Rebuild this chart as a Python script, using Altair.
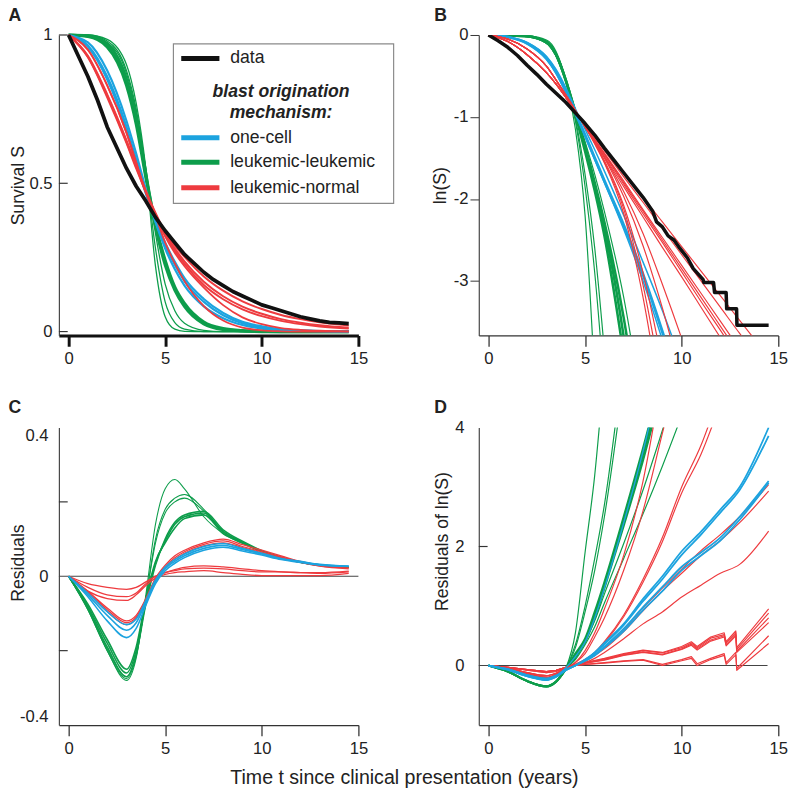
import altair as alt
import pandas as pd

FONT = "Liberation Sans"
GREEN = "#0d9d4b"
BLUE = "#1ca3df"
RED = "#ee3b3f"
BLACK = "#111111"

# common time grid for model curves (years)
T = [0, 1, 2, 3, 3.5, 4, 4.5, 5, 5.5, 6, 7, 8, 9, 10, 11, 12, 13, 14.5]
N = None

# ---------------- Panel A : survival S ----------------
A_DATA_T = [0, .5, 1, 1.5, 2, 2.5, 3, 3.5, 4, 4.5, 5, 5.5, 6, 6.5, 7, 7.5, 8, 8.5, 9, 9.5,
            10, 10.5, 11, 11.5, 12, 12.5, 13, 13.5, 14, 14.5]
A_DATA_S = [1, .93, .86, .78, .69, .62, .55, .49, .44, .385, .34, .30, .26, .23, .20, .175, .155, .135,
            .12, .105, .09, .08, .07, .06, .05, .043, .036, .031, .029, .027]
A_GREEN_THICK_1 = [1, .995, .96, .83, .70, .52, .36, .24, .15, .095, .032, .01, .003, .001, 0, 0, 0, 0]
A_GREEN_THICK_2 = [1, .997, .97, .85, .72, .53, .355, .225, .14, .085, .026, .007, .002, 0, 0, 0, 0, 0]
A_GREEN_THIN_1 = [1, 1, .985, .9, .77, .55, .22, .05, .008, .001, 0, 0, 0, 0, 0, 0, 0, 0]
A_GREEN_THIN_2 = [1, 1, .98, .88, .75, .54, .28, .10, .03, .008, 0, 0, 0, 0, 0, 0, 0, 0]
A_GREEN_THIN_3 = [1, .998, .975, .87, .74, .55, .33, .16, .07, .028, .004, 0, 0, 0, 0, 0, 0, 0]
A_BLUE_1 = [1, .965, .86, .69, .58, .47, .37, .29, .225, .17, .10, .055, .028, .014, .006, .003, .001, 0]
A_BLUE_2 = [1, .975, .88, .71, .60, .48, .37, .28, .21, .155, .085, .045, .022, .010, .004, .002, .001, 0]
A_BLUE_3 = [1, .96, .85, .68, .57, .465, .375, .30, .235, .18, .11, .063, .033, .018, .008, .004, .002, .001]
A_RED_1 = [1, .95, .83, .67, .57, .47, .39, .30, .23, .17, .086, .037, .013, .004, .001, 0, 0, 0]
A_RED_2 = [1, .95, .83, .67, .57, .47, .39, .32, .265, .22, .148, .089, .048, .025, .012, .006, .003, .001]
A_RED_3 = [1, .925, .79, .635, .55, .47, .395, .33, .273, .228, .157, .109, .075, .052, .036, .025, .017, .010]
A_RED_4 = [1, .927, .795, .64, .555, .47, .395, .332, .28, .237, .168, .119, .084, .060, .042, .030, .021, .013]
A_RED_5 = [1, .93, .80, .645, .56, .475, .40, .335, .29, .252, .186, .138, .102, .076, .056, .042, .031, .020]

# ---------------- Panel B : ln(S) ----------------
B_DATA_T = [0, .5, 1, 1.5, 2, 2.5, 3, 3.5, 4, 4.5, 5, 5.5, 6, 6.5, 7, 7.5, 8, 8.5, 8.7, 9, 9.3, 9.6, 9.9,
            10.3, 10.6, 11.1, 11.15, 11.65, 11.7, 12.3, 12.33, 12.84, 12.86, 14.5]
B_DATA_L = [0, -.07, -.15, -.25, -.37, -.48, -.6, -.71, -.82, -.95, -1.08, -1.22, -1.38, -1.53, -1.68, -1.83,
            -1.98, -2.15, -2.28, -2.34, -2.45, -2.5, -2.6, -2.72, -2.85, -2.98, -3.02, -3.02, -3.14, -3.14,
            -3.34, -3.34, -3.54, -3.54]
B_GREEN_THIN_1 = [0, -.003, -.01, -.06, -.2, -.55, -1.15, -2.2, -4.2, N, N, N, N, N, N, N, N, N]
B_GREEN_THIN_2 = [0, -.003, -.012, -.07, -.22, -.55, -1.05, -1.85, -2.9, -4.3, N, N, N, N, N, N, N, N]
B_GREEN_THIN_3 = [0, -.004, -.015, -.08, -.23, -.55, -1.02, -1.7, -2.6, -3.85, N, N, N, N, N, N, N, N]
B_GREEN_THIN_4 = [0, -.005, -.02, -.1, -.26, -.55, -.92, -1.3, -1.7, -2.15, -3.2, -4.6, N, N, N, N, N, N]
B_GREEN_THICK_1 = [0, -.004, -.015, -.09, -.24, -.55, -.97, -1.42, -1.9, -2.45, -3.9, N, N, N, N, N, N, N]
B_GREEN_THICK_2 = [0, -.004, -.015, -.09, -.24, -.55, -.95, -1.38, -1.84, -2.35, -3.68, -5.5, N, N, N, N, N, N]
B_GREEN_THICK_3 = [0, -.004, -.015, -.09, -.24, -.55, -.94, -1.35, -1.8, -2.28, -3.45, -5.0, N, N, N, N, N, N]
B_BLUE_1 = [0, -.025, -.1, -.28, -.45, -.68, -.95, -1.22, -1.5, -1.78, -2.32, -2.92, -3.62, -4.4, N, N, N, N]
B_BLUE_2 = [0, -.022, -.09, -.26, -.42, -.64, -.9, -1.15, -1.4, -1.66, -2.2, -2.77, -3.36, -4.0, N, N, N, N]
B_BLUE_3 = [0, -.028, -.11, -.3, -.47, -.7, -.96, -1.24, -1.52, -1.8, -2.37, -3.0, -3.72, -4.5, N, N, N, N]
B_RED_1A = [0, -.05, -.17, -.38, -.55, -.73, -.92, -1.12, -1.33, -1.56, -2.18, -3.2, -4.6, N, N, N, N, N]
B_RED_1B = [0, -.05, -.17, -.38, -.55, -.73, -.92, -1.12, -1.32, -1.55, -2.12, -3.05, -4.3, N, N, N, N, N]
B_RED_1C = [0, -.05, -.17, -.38, -.55, -.73, -.92, -1.12, -1.31, -1.53, -2.08, -2.9, -4.0, N, N, N, N, N]
B_RED_1D = [0, -.05, -.17, -.38, -.55, -.73, -.92, -1.12, -1.3, -1.5, -1.97, -2.57, -3.33, -4.2, N, N, N, N]
B_RED_1E = [0, -.05, -.17, -.38, -.55, -.73, -.92, -1.12, -1.3, -1.49, -1.91, -2.42, -3.04, -3.7, -4.4, N, N, N]
B_RED_2A = [0, -.08, -.24, -.46, -.6, -.76, -.93, -1.11, -1.3, -1.48, -1.85, -2.22, -2.59, -2.95, -3.32, -3.69, -4.06, N]
B_RED_2B = [0, -.08, -.24, -.46, -.6, -.76, -.93, -1.11, -1.29, -1.46, -1.82, -2.18, -2.53, -2.89, -3.25, -3.6, -3.96, N]
B_RED_2C = [0, -.08, -.24, -.46, -.6, -.76, -.93, -1.1, -1.28, -1.45, -1.8, -2.15, -2.5, -2.85, -3.2, -3.55, -3.9, N]
B_RED_2D = [0, -.08, -.24, -.46, -.6, -.76, -.93, -1.1, -1.27, -1.44, -1.78, -2.13, -2.47, -2.81, -3.15, -3.49, -3.83, N]
B_RED_2E = [0, -.08, -.24, -.46, -.6, -.76, -.93, -1.09, -1.25, -1.41, -1.73, -2.04, -2.36, -2.68, -3.0, -3.32, -3.64, -4.1]
B_RED_2F = [0, -.08, -.24, -.46, -.6, -.76, -.93, -1.08, -1.23, -1.38, -1.68, -1.98, -2.28, -2.58, -2.88, -3.18, -3.48, -3.93]

# ---------------- Panel C : residuals of S ----------------
C_GREEN_THICK_1 = [0, -.075, -.17, -.25, -.19, -.06, .04, .09, .13, .155, .165, .115, .09, .067, .05, .038, .03, .025]
C_GREEN_THICK_2 = [0, -.08, -.18, -.26, -.2, -.07, .035, .095, .14, .16, .17, .12, .092, .068, .05, .038, .03, .025]
C_GREEN_THICK_3 = [0, -.085, -.19, -.27, -.21, -.075, .03, .1, .145, .165, .175, .125, .094, .069, .051, .038, .03, .025]
C_GREEN_THIN_1 = [0, -.09, -.2, -.28, -.22, -.05, .14, .235, .26, .235, .16, .115, .088, .066, .05, .038, .03, .025]
C_GREEN_THIN_2 = [0, -.09, -.2, -.275, -.215, -.06, .1, .18, .21, .22, .18, .12, .09, .067, .05, .038, .03, .025]
C_GREEN_THIN_3 = [0, -.085, -.195, -.27, -.21, -.06, .09, .17, .2, .21, .175, .12, .09, .067, .05, .038, .03, .025]
C_BLUE_1 = [0, -.045, -.095, -.13, -.115, -.065, -.01, .025, .045, .06, .08, .088, .075, .062, .048, .04, .032, .027]
C_BLUE_2 = [0, -.05, -.105, -.145, -.125, -.07, -.015, .02, .04, .055, .075, .083, .072, .06, .047, .039, .031, .027]
C_BLUE_3 = [0, -.055, -.12, -.165, -.14, -.078, -.02, .015, .035, .05, .07, .078, .068, .057, .045, .037, .03, .027]
C_RED_1 = [0, -.04, -.085, -.12, -.105, -.06, -.005, .03, .055, .07, .09, .1, .085, .07, .055, .04, .03, .025]
C_RED_2 = [0, -.042, -.09, -.125, -.11, -.063, -.008, .026, .05, .066, .086, .095, .08, .066, .052, .038, .028, .022]
C_RED_3 = [0, -.045, -.095, -.13, -.113, -.066, -.01, .022, .045, .062, .082, .09, .077, .063, .05, .037, .027, .02]
C_RED_4 = [0, -.02, -.03, -.035, -.03, -.015, 0, .01, .018, .024, .028, .025, .02, .015, .012, .01, .01, .014]
C_RED_5 = [0, -.03, -.05, -.055, -.045, -.02, 0, .01, .015, .02, .022, .02, .015, .012, .012, .01, .008, .012]
C_RED_6 = [0, -.04, -.06, -.065, -.05, -.025, -.005, .005, .01, .012, .015, .01, .005, .002, .002, .002, .002, .008]

# ---------------- Panel D : residuals of ln(S) ----------------
D_GREEN_1 = [0, -.1, -.26, -.35, -.27, -.05, .55, 1.9, 3.2, 5.0, N, N, N, N, N, N, N, N]
D_GREEN_2 = [0, -.1, -.26, -.35, -.27, -.05, .35, 1.0, 1.8, 2.7, 5.2, N, N, N, N, N, N, N]
D_GREEN_3 = [0, -.1, -.26, -.35, -.27, -.05, .3, .9, 1.6, 2.5, 4.8, N, N, N, N, N, N, N]
D_GREEN_4 = [0, -.1, -.26, -.35, -.27, -.06, .2, .45, .9, 1.4, 2.5, 3.65, 4.9, N, N, N, N, N]
D_GREEN_5 = [0, -.1, -.26, -.35, -.27, -.06, .18, .42, .85, 1.35, 2.42, 3.55, 4.8, N, N, N, N, N]
D_GREEN_6 = [0, -.1, -.26, -.35, -.27, -.06, .16, .4, .8, 1.3, 2.35, 3.45, 4.7, N, N, N, N, N]
D_GREEN_7 = [0, -.1, -.26, -.35, -.27, -.06, .12, .4, .75, 1.2, 2.05, 2.95, 3.95, 5.0, N, N, N, N]
D_GREEN_8 = [0, -.1, -.26, -.35, -.27, -.06, .1, .35, .65, 1.05, 1.8, 2.55, 3.35, 4.2, N, N, N, N]
D_BLUE_G = [0, -.07, -.18, -.24, -.18, -.04, .15, .4, .8, 1.3, 2.4, 3.6, 5.0, N, N, N, N, N]
D_BLUE_1 = [0, -.07, -.18, -.24, -.19, -.08, 0, .1, .22, .38, .7, 1.12, 1.5, 1.92, 2.25, 2.62, 3.0, 4.0]
D_BLUE_2 = [0, -.07, -.18, -.245, -.19, -.08, 0, .09, .21, .36, .68, 1.08, 1.45, 1.86, 2.2, 2.57, 2.95, 3.86]
D_BLUE_3 = [0, -.06, -.16, -.22, -.17, -.07, 0, .08, .17, .3, .58, .93, 1.25, 1.6, 1.85, 2.1, 2.45, 3.07]
D_BLUE_4 = [0, -.06, -.16, -.22, -.17, -.07, 0, .08, .18, .32, .62, .98, 1.32, 1.66, 1.9, 2.15, 2.5, 3.1]
D_RED_G1 = [0, -.05, -.14, -.2, -.15, -.05, .05, .25, .55, .95, 1.85, 3.1, 4.9, N, N, N, N, N]
D_RED_G2 = [0, -.05, -.14, -.2, -.15, -.05, .05, .2, .48, .8, 1.6, 2.6, 3.9, 5.2, N, N, N, N]
D_RED_1 = [0, -.05, -.14, -.2, -.15, -.05, .02, .1, .22, .4, .85, 1.45, 2.15, 3.0, 3.7, 4.6, N, N]
D_RED_2 = [0, -.05, -.14, -.2, -.15, -.05, .02, .1, .21, .38, .82, 1.4, 2.08, 2.9, 3.55, 4.4, N, N]
D_RED_3 = [0, -.04, -.12, -.17, -.13, -.05, 0, .08, .18, .3, .6, .97, 1.3, 1.62, 1.93, 2.2, 2.5, 3.04]
D_RED_4 = [0, -.04, -.12, -.17, -.13, -.05, 0, .07, .17, .28, .57, .92, 1.25, 1.55, 1.85, 2.1, 2.4, 2.93]
D_RED_5 = [0, -.04, -.12, -.17, -.13, -.05, 0, .05, .12, .22, .45, .7, .9, 1.15, 1.35, 1.55, 1.7, 2.26]
# near-zero red group, with the saw-tooth caused by the data's late steps
DZ_T = [0, 1, 2, 3, 3.5, 4, 4.5, 5, 6, 7, 8, 9, 10, 10.5, 10.8, 11.5, 12.2, 12.3, 12.8, 12.85, 14.5]
D_RED_Z1 = [0, -.03, -.07, -.1, -.08, -.03, 0, .05, .12, .2, .26, .22, .32, .4, .32, .48, .55, .4, .58, .3, .95]
D_RED_Z2 = [0, -.03, -.07, -.1, -.08, -.03, 0, .05, .11, .19, .25, .21, .3, .38, .3, .46, .52, .38, .55, .27, .88]
D_RED_Z3 = [0, -.03, -.07, -.1, -.08, -.03, 0, .04, .1, .18, .23, .19, .28, .36, .28, .43, .5, .35, .52, .24, .8]
D_RED_Z4 = [0, -.03, -.07, -.1, -.08, -.03, 0, .04, .09, .17, .22, .18, .27, .34, .26, .41, .48, .33, .5, .22, .72]
D_RED_Z5 = [0, -.03, -.08, -.12, -.1, -.04, 0, .02, .05, .08, .1, .02, .1, .15, .03, .12, .2, .05, .22, -.05, .5]
D_RED_Z6 = [0, -.03, -.08, -.12, -.1, -.04, 0, .02, .04, .07, .09, .0, .08, .12, .0, .1, .17, .02, .18, -.08, .37]

LEGEND_LABELS = ["data", "one-cell", "leukemic-leukemic", "leukemic-normal"]
LEGEND_COLORS = [BLACK, BLUE, GREEN, RED]
LEGEND_TITLE = ["blast origination", "mechanism:"]
X_TITLE = "Time t since clinical presentation (years)"

W = 306
XDOM = [-0.5, 15]
ONE = pd.DataFrame({"k": [0]})


def frame(curves, widths, tgrid=T):
    rows = []
    for i, (vals, w) in enumerate(zip(curves, widths)):
        for t, v in zip(tgrid, vals):
            if v is None:
                continue
            rows.append({"t": t, "v": v, "curve": i, "w": w})
    return pd.DataFrame(rows)


def x_enc(thick):
    return alt.X("t:Q", scale=alt.Scale(domain=XDOM, nice=False, zero=False),
                 axis=alt.Axis(values=[0, 5, 10, 15], title=None, grid=False,
                               domainWidth=3 if thick else 1.3,
                               domainColor="#111" if thick else "#333",
                               tickWidth=3 if thick else 1.3,
                               tickColor="#111" if thick else "#333",
                               tickSize=11, labelFontSize=17, labelPadding=5,
                               labelColor="#222", labelFlush=False,
                               labelExpr="'' + datum.value"))


def y_enc(domain, values, title, titleX, titleY=None, flush=False, ticksize=0, pad=7):
    kw = dict(values=values, title=title, grid=False, tickSize=ticksize,
              tickColor="#333", domainColor="#444", domainWidth=1.2,
              labelPadding=pad, labelFontSize=17, labelColor="#222",
              labelFlush=flush, labelExpr="'' + datum.value",
              titleFontSize=18, titleFontWeight="normal", titleColor="#222",
              titleX=titleX)
    if titleY is not None:
        kw["titleY"] = titleY
    return alt.Y("v:Q", scale=alt.Scale(domain=domain, nice=False, zero=False),
                 axis=alt.Axis(**kw))


def lines(df, color, X, Y, clip, interp="monotone"):
    return alt.Chart(df).mark_line(color=color, clip=clip, interpolate=interp,
                                   strokeJoin="round").encode(
        x=X, y=Y, detail="curve:N", order="t:Q",
        strokeWidth=alt.StrokeWidth("w:Q", scale=None))


def letter(txt, dx, dy):
    return alt.Chart(ONE).mark_text(text=txt, fontSize=18, fontWeight="bold",
                                    color="#222", align="center", baseline="middle").encode(
        x=alt.value(dx), y=alt.value(dy))


def inward_ticks(vals, X, Y):
    return alt.Chart(pd.DataFrame({"v": vals})).mark_rule(color="#333", strokeWidth=1.2).encode(
        y=Y, x=alt.value(0), x2=alt.value(9))


def zero_line(Y, x2):
    return alt.Chart(ONE).mark_rule(color="#444", strokeWidth=1.1).encode(
        y=alt.datum(0), x=alt.value(0), x2=alt.value(x2))


# ---------- Panel A ----------
XA = x_enc(True)
YA = y_enc([-0.0132, 1], [0, 0.5, 1], "Survival S", -32, pad=7)
a_green = frame([A_GREEN_THIN_1, A_GREEN_THIN_2, A_GREEN_THIN_3, A_GREEN_THICK_1, A_GREEN_THICK_2],
                [1.3, 1.3, 1.3, 3.2, 3.2])
a_blue = frame([A_BLUE_1, A_BLUE_2, A_BLUE_3], [2.2, 2.2, 2.2])
a_red = frame([A_RED_1, A_RED_2, A_RED_3, A_RED_4, A_RED_5], [1.8, 1.8, 2.0, 2.0, 2.0])
a_data = frame([A_DATA_S], [3.8], A_DATA_T)

legend_layers = [alt.Chart(ONE).mark_rect(fill="white", stroke="#8a8a8a", strokeWidth=1.2).encode(
    x=alt.value(117), x2=alt.value(342), y=alt.value(9), y2=alt.value(172))]
legend_y = [24, 105, 130, 156]
for lab, col, ly in zip(LEGEND_LABELS, LEGEND_COLORS, legend_y):
    legend_layers.append(alt.Chart(ONE).mark_rule(color=col, strokeWidth=5).encode(
        x=alt.value(125), x2=alt.value(164), y=alt.value(ly)))
    legend_layers.append(alt.Chart(ONE).mark_text(text=lab, fontSize=18, color="#222",
                                                  align="left", baseline="middle").encode(
        x=alt.value(175), y=alt.value(ly)))
for lab, ly in zip(LEGEND_TITLE, [58, 80]):
    legend_layers.append(alt.Chart(ONE).mark_text(text=lab, fontSize=18, fontWeight="bold",
                                                  fontStyle="italic", color="#222",
                                                  align="center", baseline="middle").encode(
        x=alt.value(227), y=alt.value(ly)))

panelA = alt.layer(
    lines(a_green, GREEN, XA, YA, False),
    lines(a_blue, BLUE, XA, YA, False),
    lines(a_red, RED, XA, YA, False),
    lines(a_data, BLACK, XA, YA, False, "linear"),
    inward_ticks([0, 0.5, 1], XA, YA),
    letter("A", -45, -19),
    *legend_layers,
).properties(width=W, height=307)

# ---------- Panel B ----------
XB = x_enc(False)
YB = y_enc([-3.665, 0], [0, -1, -2, -3], "ln(S)", -30, ticksize=9, pad=2)
b_green = frame([B_GREEN_THIN_1, B_GREEN_THIN_2, B_GREEN_THIN_3, B_GREEN_THIN_4,
                 B_GREEN_THICK_1, B_GREEN_THICK_2, B_GREEN_THICK_3],
                [1.2, 1.2, 1.2, 1.2, 2.6, 2.6, 2.6])
b_blue = frame([B_BLUE_1, B_BLUE_2, B_BLUE_3], [3.0, 1.5, 1.5])
b_red = frame([B_RED_1A, B_RED_1B, B_RED_1C, B_RED_1D, B_RED_1E,
               B_RED_2A, B_RED_2B, B_RED_2C, B_RED_2D, B_RED_2E, B_RED_2F], [1.2] * 11)
b_data = frame([B_DATA_L], [3.6], B_DATA_T)
panelB = alt.layer(
    lines(b_green, GREEN, XB, YB, True),
    lines(b_blue, BLUE, XB, YB, True),
    lines(b_red, RED, XB, YB, True),
    lines(b_data, BLACK, XB, YB, True, "linear"),
    letter("B", -39, -19),
).properties(width=W, height=307)

# ---------- Panel C ----------
XC = x_enc(False)
YC = y_enc([-0.4, 0.4], [-0.4, 0, 0.4], "Residuals", -32, titleY=138, flush=True, pad=11)
c_green = frame([C_GREEN_THIN_1, C_GREEN_THIN_2, C_GREEN_THIN_3,
                 C_GREEN_THICK_1, C_GREEN_THICK_2, C_GREEN_THICK_3],
                [1.1, 1.1, 1.1, 1.6, 1.6, 1.6])
c_blue = frame([C_BLUE_1, C_BLUE_2, C_BLUE_3], [1.6, 1.6, 1.6])
c_red = frame([C_RED_1, C_RED_2, C_RED_3, C_RED_4, C_RED_5, C_RED_6], [1.3] * 6)
panelC = alt.layer(
    zero_line(YC, W),
    lines(c_green, GREEN, XC, YC, True),
    lines(c_red, RED, XC, YC, True),
    lines(c_blue, BLUE, XC, YC, True),
    inward_ticks([-0.2, 0.2], XC, YC),
    letter("C", -45, -20),
    alt.Chart(ONE).mark_text(text=X_TITLE, fontSize=20, color="#222", align="center",
                             baseline="middle").encode(x=alt.value(353), y=alt.value(358)),
).properties(width=W, height=304)

# ---------- Panel D ----------
XD = x_enc(False)
YD = y_enc([-1, 4], [0, 2, 4], "Residuals of ln(S)", -28, titleY=116, pad=15)
d_green = frame([D_GREEN_1, D_GREEN_2, D_GREEN_3, D_GREEN_7, D_GREEN_8,
                 D_GREEN_4, D_GREEN_5, D_GREEN_6],
                [1.2, 1.2, 1.2, 1.2, 1.2, 2.2, 2.2, 2.2])
d_blue = frame([D_BLUE_G, D_BLUE_1, D_BLUE_2, D_BLUE_3, D_BLUE_4], [1.4, 1.8, 1.8, 1.8, 1.8])
d_red = frame([D_RED_G1, D_RED_G2, D_RED_1, D_RED_2, D_RED_3, D_RED_4, D_RED_5], [1.2] * 7)
d_red_z = frame([D_RED_Z1, D_RED_Z2, D_RED_Z3, D_RED_Z4, D_RED_Z5, D_RED_Z6], [1.2] * 6, DZ_T)
panelD = alt.layer(
    zero_line(YD, 295),
    lines(d_green, GREEN, XD, YD, True),
    lines(d_red, RED, XD, YD, True),
    lines(d_red_z, RED, XD, YD, True, "linear"),
    lines(d_blue, BLUE, XD, YD, True),
    inward_ticks([2], XD, YD),
    letter("D", -39, -20),
).properties(width=W, height=304)

chart = alt.concat(panelA, panelB, panelC, panelD, columns=2,
                   spacing={"row": 94, "column": 123}, bounds="flush").properties(
    padding={"left": 0, "top": -9, "right": 4, "bottom": 4}
).configure(font=FONT).configure_view(stroke=None)

chart.save("out.html", embed_options={"renderer": "svg", "actions": False})
